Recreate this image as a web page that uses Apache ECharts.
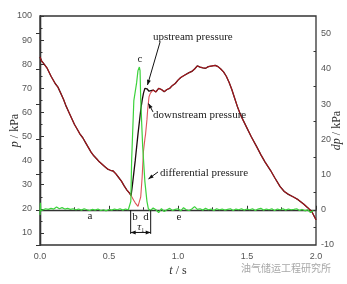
<!DOCTYPE html>
<html><head><meta charset="utf-8">
<script src="https://cdn.jsdelivr.net/npm/echarts@6/dist/echarts.min.js"></script>
<style>html,body{margin:0;padding:0;background:#fff}#c{width:347px;height:284px}</style>
</head><body><div id="c"></div>
<script>
// ---- data ----
const tP = [0.00,0.01,0.03,0.05,0.08,0.11,0.13,0.15,0.17,0.19,0.21,0.23,0.25,0.27,0.29,0.31,0.33,0.35,0.37,0.39,0.41,0.43,0.45,0.47,0.49,0.51,0.53,0.55,0.57,0.59,0.61,0.63,0.65,0.66,0.67,0.68,0.69,0.70,0.71,0.72,0.73,0.74,0.75,0.76,0.765,0.775,0.78,0.79,0.80,0.82,0.84,0.86,0.88,0.90,0.92,0.94,0.96,0.98,1.00,1.02,1.05,1.08,1.10,1.12,1.14,1.16,1.18,1.20,1.22,1.24,1.27,1.29,1.31,1.33,1.35,1.37,1.39,1.41,1.43,1.45,1.47,1.50,1.53,1.57,1.60,1.63,1.67,1.70,1.74,1.77,1.80,1.84,1.87,1.91,1.94,1.97,2.00];
const pDown = [83.0,81.5,80.0,78.5,75.0,72.0,70.5,68.0,65.5,62.5,60.0,57.5,55.0,53.0,51.0,49.5,47.5,45.5,43.5,42.0,40.8,39.5,38.5,37.5,36.5,36.0,35.7,34.5,33.0,31.5,29.5,27.8,26.4,25.5,24.5,23.5,22.5,21.8,21.0,21.5,25.0,33.0,44.0,49.0,51.0,57.0,61.0,66.5,68.0,69.3,68.5,70.0,69.5,68.6,69.5,70.0,71.2,72.0,73.4,74.5,75.5,76.5,77.0,78.0,79.3,78.8,78.5,78.3,79.0,79.2,79.5,79.0,78.0,76.8,75.0,72.5,69.5,66.0,62.5,59.5,57.0,53.5,50.0,45.8,42.5,39.5,36.0,33.0,29.2,27.2,26.0,24.8,23.8,22.0,20.5,18.8,15.5];
const pUp   = [83.0,81.5,80.0,78.5,75.0,72.0,70.5,68.0,65.5,62.5,60.0,57.5,55.0,53.0,51.0,49.5,47.5,45.5,43.5,42.0,40.8,39.5,38.5,37.5,36.5,36.0,35.7,34.5,33.0,31.5,29.5,27.8,26.4,25.5,30.0,35.0,40.0,45.5,51.0,56.0,61.0,65.0,68.0,70.0,70.0,69.8,69.5,68.8,68.3,69.3,68.5,70.0,69.5,68.6,69.5,70.0,71.2,72.0,73.4,74.5,75.5,76.5,77.0,78.0,79.3,78.8,78.5,78.3,79.0,79.2,79.5,79.0,78.0,76.8,75.0,72.5,69.5,66.0,62.5,59.5,57.0,53.5,50.0,45.8,42.5,39.5,36.0,33.0,29.2,27.2,26.0,24.8,23.8,22.0,20.5,18.8,15.5];
const tD = [0.000,0.003,0.006,0.01,0.02,0.04,0.06,0.08,0.10,0.12,0.14,0.16,0.18,0.20,0.22,0.24,0.26,0.28,0.30,0.32,0.34,0.36,0.38,0.40,0.42,0.44,0.46,0.48,0.50,0.52,0.54,0.56,0.58,0.60,0.62,0.64,0.658,0.664,0.68,0.70,0.71,0.72,0.725,0.73,0.744,0.76,0.775,0.785,0.79,0.80,0.82,0.84,0.86,0.88,0.90,0.92,0.94,0.96,0.98,1.00,1.02,1.04,1.06,1.08,1.10,1.12,1.14,1.16,1.18,1.20,1.22,1.24,1.26,1.28,1.30,1.32,1.34,1.36,1.38,1.40,1.42,1.44,1.46,1.48,1.50,1.52,1.54,1.56,1.58,1.60,1.62,1.64,1.66,1.68,1.70,1.72,1.74,1.76,1.78,1.80,1.82,1.84,1.86,1.88,1.90,1.92,1.94,1.96,1.98,2.00];
const dP = [-1.5,2.0,-0.3,0.2,-0.1,0.3,0.1,0.4,0.2,0.8,0.3,0.6,0.2,0.4,0.1,0.3,0.0,0.2,-0.1,0.3,0.0,-0.2,0.1,-0.1,0.2,-0.2,0.0,-0.3,0.1,-0.1,0.2,0.0,0.3,-0.1,0.2,0.0,2.4,14,31,36,39.5,40.5,39.5,31,18,8,2.4,0.3,0.2,-0.2,0.5,0.0,-0.8,0.3,-0.5,0.0,0.4,-0.2,0.1,0.3,-0.3,0.6,0.0,-0.2,0.2,0.9,0.1,0.3,-0.1,0.4,0.0,0.2,-0.2,0.3,0.0,0.2,-0.1,0.1,0.3,-0.2,0.2,0.0,0.3,-0.1,0.2,0.0,0.3,-0.2,0.2,0.4,-0.1,0.2,0.0,0.3,-0.2,0.2,0.0,0.3,-0.1,0.2,0.0,0.1,0.3,-0.2,0.1,-0.3,0.0,-0.8,-0.2];
const xTicks = [0,0.5,1.0,1.5,2.0];
const xMinor = [0.25,0.75,1.25,1.75];
const yLeftTicks = [10,20,30,40,50,60,70,80,90,100];
const yLeftMinor = [15,25,35,45,55,65,75,85,95];
const yRightTicks = [-10,0,10,20,30,40,50];
const yRightMinor = [-5,5,15,25,35,45];
// annotations in data coords (t, p-left)
const notes = [
  {text:'upstream pressure', at:[0.819,91.3], align:'left'},
  {text:'downstream pressure', at:[0.819,58.9], align:'left'},
  {text:'differential pressure', at:[0.870,34.9], align:'left'},
  {text:'c', at:[0.725,82.2], align:'center'},
  {text:'a', at:[0.362,17.0], align:'center'},
  {text:'b', at:[0.688,16.6], align:'center'},
  {text:'d', at:[0.768,16.6], align:'center'},
  {text:'e', at:[1.007,16.6], align:'center'}
];
const arrows = [
  {from:[0.870,89.2], to:[0.779,71.4]},
  {from:[0.819,60.2], to:[0.786,63.7]},
  {from:[0.855,35.3], to:[0.786,32.4]}
];
const tauLines = [0.657, 0.802];
const tauY = [9.6, 19.5];
const tauArrowP = 10.2;

const chart = echarts.init(document.getElementById('c'), null, {renderer:'canvas'});
const pair = (xs, ys) => xs.map((x,i)=>[x, ys[i]]);
const axisLine = {show:true, lineStyle:{color:'#333', width:1.3}};
const lblStyle = {color:'#555', fontSize:9, fontFamily:'Liberation Sans'};
const serif = 'Liberation Serif';
const nameStyle = {fontFamily:serif, fontSize:12, color:'#333', rich:{i:{fontStyle:'italic', fontFamily:serif, fontSize:12, color:'#333'}}};
chart.setOption({
  animation:false,
  grid:{left:40, top:16, right:31, bottom:39, show:true, borderColor:'#333', borderWidth:1.3, containLabel:false, outerBoundsMode:'none'},
  xAxis:[
    {type:'value', min:0, max:2, interval:0.5, axisLine,
     axisTick:{inside:true, length:4, customValues:xTicks, lineStyle:{color:'#333'}},
     axisLabel:{...lblStyle, margin:7, customValues:xTicks, formatter:v=>v.toFixed(1)},
     splitLine:{show:false},
     name:'{i|t} / s', nameLocation:'middle', nameGap:20, nameMoveOverlap:false,
     nameTextStyle:nameStyle},
    {type:'value', min:0, max:2, position:'bottom', axisLine:{show:false},
     axisTick:{inside:true, length:2.5, customValues:xMinor, lineStyle:{color:'#333'}},
     axisLabel:{show:false}, splitLine:{show:false}}
  ],
  yAxis:[
    {type:'value', min:5, max:100, position:'left', axisLine,
     axisTick:{inside:true, length:4, customValues:yLeftTicks, lineStyle:{color:'#333'}},
     axisLabel:{...lblStyle, margin:8, customValues:yLeftTicks},
     splitLine:{show:false},
     name:'{i|p} / kPa', nameLocation:'middle', nameGap:19, nameRotate:90, nameMoveOverlap:false,
     nameTextStyle:nameStyle},
    {type:'value', min:-10, max:55, interval:10, position:'right', axisLine,
     axisTick:{inside:true, length:4, customValues:yRightTicks, lineStyle:{color:'#333'}},
     axisLabel:{...lblStyle, margin:5, customValues:yRightTicks},
     splitLine:{show:false},
     name:'{i|dp} / kPa', nameLocation:'middle', nameGap:15, nameRotate:90, nameMoveOverlap:false,
     nameTextStyle:nameStyle},
    {type:'value', min:5, max:100, position:'left', axisLine:{show:false},
     axisTick:{inside:true, length:2.5, customValues:yLeftMinor, lineStyle:{color:'#333'}},
     axisLabel:{show:false}, splitLine:{show:false}},
    {type:'value', min:-10, max:55, position:'right', axisLine:{show:false},
     axisTick:{inside:true, length:2.5, customValues:yRightMinor, lineStyle:{color:'#333'}},
     axisLabel:{show:false}, splitLine:{show:false}}
  ],
  series:[
    {name:'upstream pressure', type:'line', xAxisIndex:0, yAxisIndex:0, data:pair(tP,pUp), showSymbol:false, lineStyle:{color:'#1a0a0a', width:1.3}, z:2},
    {name:'downstream pressure', type:'line', xAxisIndex:0, yAxisIndex:0, data:pair(tP,pDown), showSymbol:false, lineStyle:{color:'#d01820', width:1.1, opacity:0.75}, z:3},
    {name:'differential pressure', type:'line', xAxisIndex:0, yAxisIndex:1, data:pair(tD,dP), showSymbol:false, lineStyle:{color:'#3cd23c', width:1.2}, z:4}
  ]
});

// annotations positioned through the chart's own scales
const px = p => chart.convertToPixel({xAxisIndex:0, yAxisIndex:0}, p);
const g = [];
notes.forEach(n=>{
  const [x,y] = px(n.at);
  g.push({type:'text', x, y, z:10, style:{text:n.text, fontFamily:serif, fontSize:11, fill:'#222', align:n.align, verticalAlign:'middle'}});
});
function head(tip, tail, size){
  const dx = tip[0]-tail[0], dy = tip[1]-tail[1], L = Math.hypot(dx,dy)||1;
  const ux = dx/L, uy = dy/L, bx = tip[0]-ux*size, by = tip[1]-uy*size;
  return {type:'polygon', z:10, shape:{points:[tip,[bx-uy*size*0.4,by+ux*size*0.4],[bx+uy*size*0.4,by-ux*size*0.4]]}, style:{fill:'#111'}};
}
arrows.forEach(a=>{
  const f = px(a.from), t = px(a.to);
  g.push({type:'line', z:10, shape:{x1:f[0],y1:f[1],x2:t[0],y2:t[1]}, style:{stroke:'#111', lineWidth:1}});
  g.push(head(t,f,5));
});
const v1a = px([tauLines[0],tauY[0]]), v1b = px([tauLines[0],tauY[1]]);
const v2a = px([tauLines[1],tauY[0]]), v2b = px([tauLines[1],tauY[1]]);
g.push({type:'line', z:10, shape:{x1:v1a[0],y1:v1a[1],x2:v1b[0],y2:v1b[1]}, style:{stroke:'#111', lineWidth:1}});
g.push({type:'line', z:10, shape:{x1:v2a[0],y1:v2a[1],x2:v2b[0],y2:v2b[1]}, style:{stroke:'#111', lineWidth:1}});
const ha = px([tauLines[0],tauArrowP]), hb = px([tauLines[1],tauArrowP]);
g.push({type:'line', z:10, shape:{x1:ha[0],y1:ha[1],x2:hb[0],y2:hb[1]}, style:{stroke:'#111', lineWidth:1}});
g.push(head(ha,hb,5)); g.push(head(hb,ha,5));
const tl = px([(tauLines[0]+tauLines[1])/2, tauArrowP]);
g.push({type:'text', x:tl[0], y:tl[1]-5, z:10, style:{text:'{t|τ}{s|1}', fontFamily:serif, fontSize:11, fill:'#222', align:'center', verticalAlign:'middle', rich:{t:{fontStyle:'italic', fontFamily:serif, fontSize:11, fill:'#222'}, s:{fontFamily:serif, fontSize:6, fill:'#222', padding:[6,0,0,0]}}}});
g.push({type:'text', right:16, bottom:11, z:10, style:{text:'油气储运工程研究所', fontFamily:'Noto Sans CJK SC', fontSize:10, fill:'#a8a8a8'}});
chart.setOption({graphic:g});
</script></body></html>
